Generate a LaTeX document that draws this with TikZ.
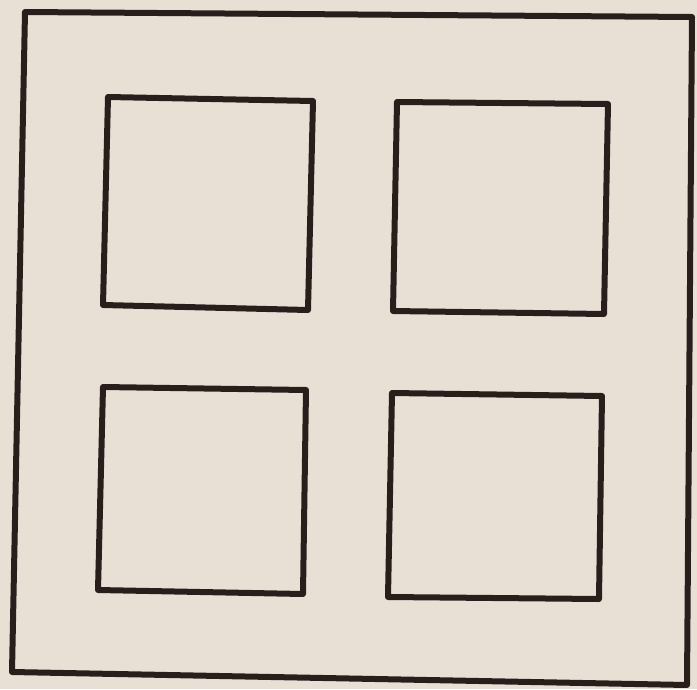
\documentclass[tikz,border=0pt]{standalone}
\definecolor{paper}{HTML}{E8E0D5}
\definecolor{ink}{HTML}{2A1E1C}
\tikzset{box/.style={draw=ink, line width=6pt, line join=round}}
\begin{document}
\begin{tikzpicture}[x=1pt,y=-1pt]
\fill[paper] (0,0) rectangle (697,689);
\useasboundingbox (0,0) rectangle (697,689);
% outer frame
\coordinate (o1) at (25,12);
\coordinate (o2) at (692,17);
\coordinate (o3) at (687,685);
\coordinate (o4) at (12,672);
\draw[box] (o1) -- (o2) -- (o3) -- (o4) -- cycle;
% top-left window
\coordinate (a1) at (108,97);
\coordinate (a2) at (313,101);
\coordinate (a3) at (308,310);
\coordinate (a4) at (103,305);
\draw[box] (a1) -- (a2) -- (a3) -- (a4) -- cycle;
% top-right window
\coordinate (b1) at (397,102);
\coordinate (b2) at (608,104);
\coordinate (b3) at (604,314);
\coordinate (b4) at (393,311);
\draw[box] (b1) -- (b2) -- (b3) -- (b4) -- cycle;
% bottom-left window
\coordinate (c1) at (103,387);
\coordinate (c2) at (306,390);
\coordinate (c3) at (303,594);
\coordinate (c4) at (98,590);
\draw[box] (c1) -- (c2) -- (c3) -- (c4) -- cycle;
% bottom-right window
\coordinate (d1) at (392,393);
\coordinate (d2) at (602,396);
\coordinate (d3) at (599,599);
\coordinate (d4) at (388,597);
\draw[box] (d1) -- (d2) -- (d3) -- (d4) -- cycle;
\end{tikzpicture}
\end{document}
